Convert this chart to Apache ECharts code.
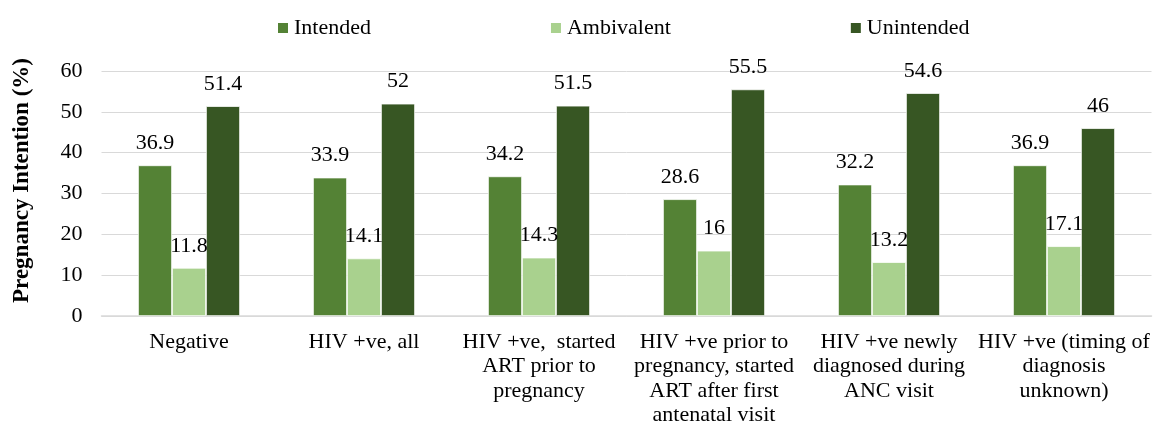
<!DOCTYPE html>
<html>
<head>
<meta charset="utf-8">
<script src="https://cdn.jsdelivr.net/npm/echarts@6/dist/echarts.min.js"></script>
<style>
html,body{margin:0;padding:0;background:#fff;}
#c{width:1153px;height:429px;}
</style>
</head>
<body>
<div id="c"></div>
<script>
const categories = [
  "Negative",
  "HIV +ve, all",
  "HIV +ve,  started\nART prior to\npregnancy",
  "HIV +ve prior to\npregnancy, started\nART after first\nantenatal visit",
  "HIV +ve newly\ndiagnosed during\nANC visit",
  "HIV +ve (timing of\ndiagnosis\nunknown)"
];
const intended = [36.9, 33.9, 34.2, 28.6, 32.2, 36.9];
const ambivalent = [11.8, 14.1, 14.3, 16, 13.2, 17.1];
const unintended = [51.4, 52, 51.5, 55.5, 54.6, 46];
const seriesNames = ["Intended", "Ambivalent", "Unintended"];
const colors = ["#548235", "#A9D18E", "#375623"];
const yTicks = [0, 10, 20, 30, 40, 50, 60];

const font = "'Liberation Serif', 'Times New Roman', serif";
const chart = echarts.init(document.getElementById('c'), null, {renderer: 'canvas'});
const data = [intended, ambivalent, unintended];
chart.setOption({
  animation: false,
  backgroundColor: '#fff',
  textStyle: {fontFamily: font},
  legend: {
    top: 12,
    left: 271,
    itemWidth: 12,
    itemHeight: 12,
    itemGap: 178,
    icon: 'rect',
    textStyle: {fontFamily: font, fontSize: 22, color: '#000'},
    data: seriesNames
  },
  grid: {left: 101.5, right: 1.5, top: 71, bottom: 113, containLabel: false},
  xAxis: {
    type: 'category',
    data: categories,
    axisLine: {lineStyle: {color: '#d9d9d9', width: 1.5}},
    axisTick: {show: false},
    axisLabel: {fontFamily: font, fontSize: 22, color: '#000', lineHeight: 24.3, margin: 14, interval: 0}
  },
  yAxis: {
    type: 'value',
    min: yTicks[0],
    max: yTicks[yTicks.length - 1],
    interval: 10,
    name: 'Pregnancy Intention (%)',
    nameLocation: 'middle',
    nameGap: 68,
    nameTextStyle: {fontFamily: font, fontSize: 23, fontWeight: 'bold', color: '#000', padding: [0, 0, 0, 26]},
    axisLine: {show: false},
    axisTick: {show: false},
    axisLabel: {fontFamily: font, fontSize: 22, color: '#000', margin: 19},
    splitLine: {lineStyle: {color: '#d9d9d9', width: 1}}
  },
  series: seriesNames.map((n, i) => ({
    name: n,
    type: 'bar',
    data: data[i],
    barWidth: 34,
    barGap: '0%',
    itemStyle: {color: colors[i], borderColor: '#fff', borderWidth: 0.75},
    label: {
      show: true,
      position: 'top',
      distance: 11,
      fontFamily: font,
      fontSize: 22,
      color: '#000'
    }
  }))
});
</script>
</body>
</html>
